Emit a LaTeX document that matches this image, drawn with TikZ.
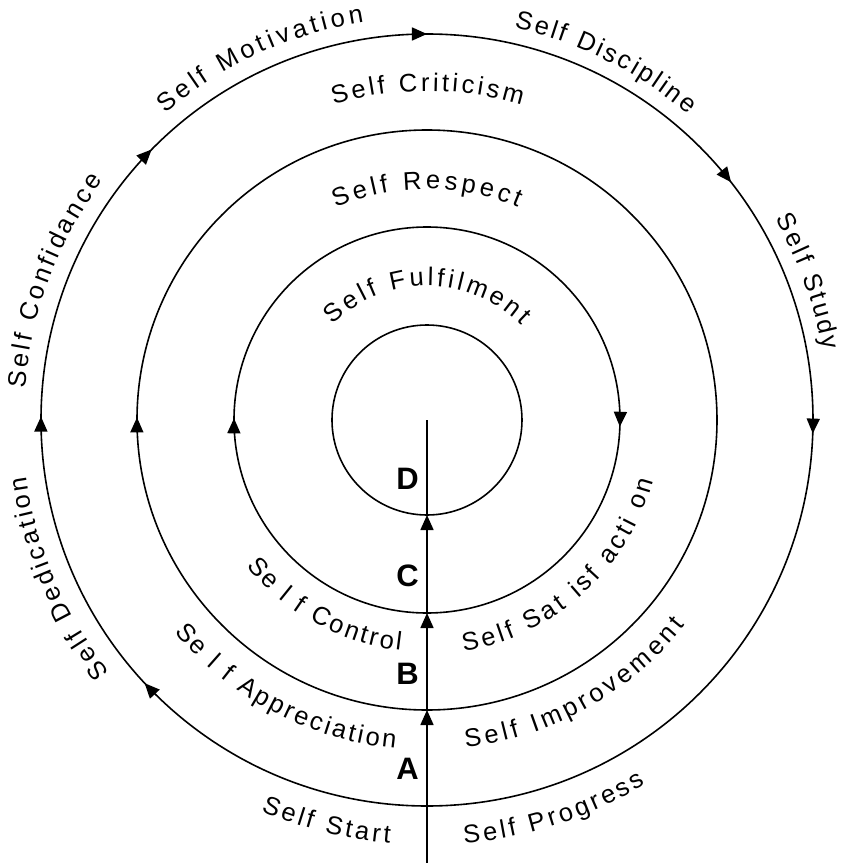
\documentclass[tikz,border=0pt]{standalone}
\usepackage{fontspec}
\setmainfont{Liberation Sans}
\usepackage{tikz}
\usetikzlibrary{arrows.meta}
\usetikzlibrary{decorations.text,decorations.markings}
\newcommand\lbl{\fontsize{25.5}{25.5}\selectfont}

\begin{document}
\begin{tikzpicture}[x=1pt,y=1pt]
      \tikzset{
        ring/.style={draw, line width=1.6pt},
        head/.tip={Triangle[width=13pt,length=15pt]},
        line/.style={draw, line width=1.6pt, -head},
        mid/.style={postaction={decorate, decoration={markings, mark=at position #1 with {\arrow{head}}}}},
        curved/.style={decorate, decoration={text along path, text={|\lbl|#1}, text align={fit to path}}},
        letter/.style={font=\fontsize{31}{31}\selectfont\bfseries},
      }
      \useasboundingbox (-427,-443) rectangle (416,420);

      \coordinate (o) at (0,0);
      \coordinate (bot) at (0,-443);
      \coordinate (pA) at (270:290);
      \coordinate (pB) at (270:193);
      \coordinate (pC) at (270:95);

      % rings, all run clockwise from the bottom
      \path [ring, mid=0.1306, mid=0.2514, mid=0.3736, mid=0.5, mid=0.6444, mid=0.7556]
        (270:386) arc[start angle=270, end angle=-90, radius=386];
      \path [ring, mid=0.2514] (270:290) arc[start angle=270, end angle=-90, radius=290];
      \path [ring, mid=0.2514, mid=0.7556] (270:193) arc[start angle=270, end angle=-90, radius=193];
      \path [ring] (270:95) arc[start angle=270, end angle=-90, radius=95];

      \path [line] (bot)--(pA);
      \path [line] (pA)--(pB);
      \path [line] (pB)--(pC);
      \draw [line width=1.6pt] (pC)--(o);

      \node [letter] (lA) at (-19.5,-349) {A};
      \node [letter] (lB) at (-19.5,-253.5) {B};
      \node [letter] (lC) at (-19.5,-156) {C};
      \node [letter] (lD) at (-19.5,-58.5) {D};

      % outer ring
      \path [curved=Self Dedication] (218.5:405) arc[start angle=218.5, end angle=188, radius=405];
      \path [curved=Self Confidance] (175.5:403) arc[start angle=175.5, end angle=143.5, radius=403];
      \path [curved=Self Motivation] (130.5:403) arc[start angle=130.5, end angle=99, radius=403];
      \path [curved=Self Discipline] (77.5:402) arc[start angle=77.5, end angle=49.5, radius=402];
      \path [curved=Self Study] (30:402) arc[start angle=30, end angle=10, radius=402];
      \path [curved=Self Start] (247:425) arc[start angle=247, end angle=265, radius=425];
      \path [curved=Self Progress] (275:425) arc[start angle=275, end angle=301, radius=425];

      % between the rings
      \path [curved=Self Criticism] (106.5:329) arc[start angle=106.5, end angle=73.3, radius=329];
      \path [curved=Se l f Appreciation] (220:330) arc[start angle=220, end angle=264.5, radius=330];
      \path [curved=Self Improvement] (276.7:330) arc[start angle=276.7, end angle=321.5, radius=330];
      \path [curved=Self Respect] (113.3:231) arc[start angle=113.3, end angle=66.8, radius=231];
      \path [curved=Se l f Control] (219:232) arc[start angle=219, end angle=263.5, radius=232];
      \path [curved=Self Sat isf acti on] (279:234) arc[start angle=279, end angle=345, radius=234];
      \path [curved=Self Fulfilment] (134.5:134) arc[start angle=134.5, end angle=45, radius=134];
\end{tikzpicture}
\end{document}
